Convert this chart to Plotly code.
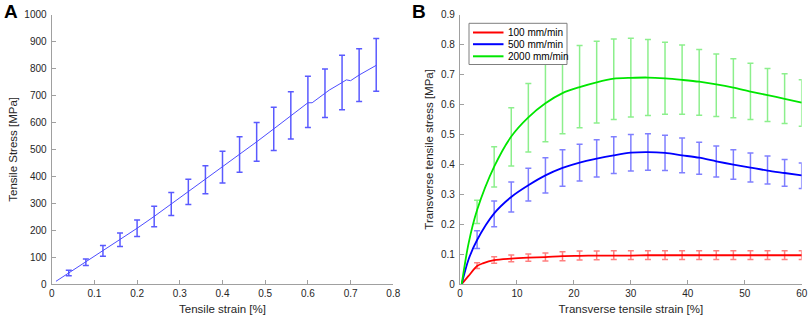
import plotly.graph_objects as go

# ---------------- Panel A data ----------------
a_line_x = [0.01, 0.04, 0.08, 0.12, 0.16, 0.20, 0.24, 0.28, 0.32, 0.36, 0.40, 0.44,
            0.48, 0.52, 0.56, 0.60, 0.61, 0.64, 0.65, 0.68, 0.69, 0.70, 0.72, 0.76]
a_line_y = [10, 41, 81, 123, 164, 207, 251, 297, 342, 387, 434, 481,
            528, 576, 626, 673, 673, 708, 720, 748, 758, 755, 776, 812]
a_bar_x = [0.04, 0.08, 0.12, 0.16, 0.20, 0.24, 0.28, 0.32, 0.36, 0.40,
           0.44, 0.48, 0.52, 0.56, 0.60, 0.64, 0.68, 0.72, 0.76]
a_bar_mean = [41, 81, 123, 164, 207, 251, 297, 342, 387, 434,
              481, 528, 576, 626, 676, 708, 748, 776, 814]
a_bar_err = [10, 12, 20, 25, 31, 38, 43, 47, 52, 59,
             66, 72, 80, 88, 95, 90, 101, 98, 98]

# ---------------- Panel B data ----------------
b_bar_x = [3, 6, 9, 12, 15, 18, 21, 24, 27, 30, 33, 36, 39, 42, 45, 48, 51, 54, 57, 60]

red_line_x = [0.3, 1.5, 3, 4, 6, 9, 12, 15, 18, 21, 24, 27, 30, 33, 36, 39, 42, 45, 48, 51, 54, 57, 60]
red_line_y = [0, 0.027, 0.060, 0.069, 0.080, 0.085, 0.088, 0.090, 0.093, 0.094, 0.095, 0.095,
              0.095, 0.096, 0.096, 0.096, 0.096, 0.096, 0.096, 0.096, 0.096, 0.096, 0.096]
red_mid = [0.060, 0.080, 0.085, 0.088, 0.090, 0.093, 0.094, 0.095, 0.095, 0.095,
           0.096, 0.096, 0.096, 0.096, 0.096, 0.096, 0.096, 0.096, 0.096, 0.096]
red_lo = [0.052, 0.069, 0.074, 0.076, 0.077, 0.078, 0.080, 0.081, 0.082, 0.082,
          0.082, 0.082, 0.082, 0.082, 0.082, 0.082, 0.082, 0.082, 0.082, 0.082]
red_hi = [0.071, 0.091, 0.097, 0.100, 0.104, 0.108, 0.110, 0.110, 0.111, 0.111,
          0.111, 0.111, 0.111, 0.111, 0.111, 0.111, 0.111, 0.111, 0.111, 0.111]

blue_line_x = [0.3, 1.5, 3, 6, 9, 12, 15, 18, 21, 24, 27, 30, 33, 36, 39, 42, 45, 48, 51, 54, 57, 60]
blue_line_y = [0, 0.082, 0.147, 0.236, 0.291, 0.330, 0.363, 0.388, 0.406, 0.419, 0.430, 0.439,
               0.441, 0.438, 0.430, 0.422, 0.410, 0.399, 0.389, 0.379, 0.371, 0.363]
blue_mid = [0.147, 0.236, 0.291, 0.330, 0.363, 0.388, 0.406, 0.419, 0.430, 0.439,
            0.441, 0.438, 0.430, 0.422, 0.410, 0.399, 0.389, 0.379, 0.371, 0.363]
blue_lo = [0.119, 0.191, 0.241, 0.277, 0.304, 0.327, 0.344, 0.358, 0.369, 0.378,
           0.380, 0.379, 0.372, 0.367, 0.358, 0.350, 0.341, 0.334, 0.327, 0.319]
blue_hi = [0.178, 0.277, 0.341, 0.387, 0.422, 0.449, 0.467, 0.482, 0.492, 0.500,
           0.502, 0.497, 0.488, 0.474, 0.461, 0.449, 0.438, 0.428, 0.416, 0.404]

green_line_x = [0.3, 1.5, 3, 6, 9, 12, 15, 18, 21, 24, 27, 30, 33, 36, 39, 42, 45, 48, 51, 54, 57, 60]
green_line_y = [0, 0.135, 0.247, 0.392, 0.493, 0.557, 0.604, 0.638, 0.658, 0.674, 0.686, 0.689,
                0.690, 0.687, 0.682, 0.676, 0.667, 0.656, 0.643, 0.631, 0.619, 0.606]
green_mid = [0.247, 0.392, 0.493, 0.557, 0.604, 0.638, 0.658, 0.674, 0.686, 0.689,
             0.690, 0.687, 0.682, 0.676, 0.667, 0.656, 0.643, 0.631, 0.619, 0.606]
green_lo = [0.202, 0.324, 0.394, 0.441, 0.475, 0.502, 0.522, 0.538, 0.550, 0.558,
            0.563, 0.567, 0.567, 0.564, 0.560, 0.556, 0.550, 0.543, 0.536, 0.527]
green_hi = [0.280, 0.459, 0.589, 0.670, 0.745, 0.775, 0.797, 0.811, 0.819, 0.821,
            0.817, 0.808, 0.799, 0.784, 0.769, 0.753, 0.738, 0.720, 0.703, 0.683]

series_names = ["100 mm/min", "500 mm/min", "2000 mm/min"]
line_colors = ["#ff0000", "#0000ff", "#00e600"]
bar_colors = ["rgba(255,0,0,0.5)", "rgba(0,0,255,0.5)", "rgba(0,220,0,0.45)"]

W, H = 809, 318
FONT = "Liberation Sans, Arial, Helvetica, sans-serif"
AX = "#a0a0a0"
TXT = "#262626"

fig = go.Figure()

# Panel A
fig.add_trace(go.Scatter(
    x=a_bar_x, y=a_bar_mean, mode="markers", xaxis="x", yaxis="y",
    marker=dict(size=1, color="rgba(0,0,0,0)"),
    error_y=dict(type="data", array=a_bar_err, color="#5a5aff", thickness=1.5, width=3),
    showlegend=False, hoverinfo="skip"))
fig.add_trace(go.Scatter(
    x=a_line_x, y=a_line_y, mode="lines", xaxis="x", yaxis="y",
    line=dict(color="#4d4dff", width=1), showlegend=False))

# Panel B error bars
for mid, lo, hi, bc in [(red_mid, red_lo, red_hi, bar_colors[0]),
                        (blue_mid, blue_lo, blue_hi, bar_colors[1]),
                        (green_mid, green_lo, green_hi, bar_colors[2])]:
    fig.add_trace(go.Scatter(
        x=b_bar_x, y=mid, mode="markers", xaxis="x2", yaxis="y2",
        marker=dict(size=1, color="rgba(0,0,0,0)"),
        error_y=dict(type="data", symmetric=False,
                     array=[h - m for h, m in zip(hi, mid)],
                     arrayminus=[m - l for m, l in zip(mid, lo)],
                     color=bc, thickness=1.5, width=3),
        showlegend=False, hoverinfo="skip"))

# Panel B lines
for lx, ly, name, lc in [(red_line_x, red_line_y, series_names[0], line_colors[0]),
                         (blue_line_x, blue_line_y, series_names[1], line_colors[1]),
                         (green_line_x, green_line_y, series_names[2], line_colors[2])]:
    fig.add_trace(go.Scatter(
        x=lx, y=ly, mode="lines", xaxis="x2", yaxis="y2", name=name,
        line=dict(color=lc, width=1.8, shape="spline", smoothing=0.8), showlegend=False))

ydom = [34 / H, 303.3 / H]
common = dict(showline=True, linecolor=AX, linewidth=1.2, ticks="inside", ticklen=4,
              tickcolor=AX, tickwidth=1, showgrid=False, zeroline=False,
              ticklabeloverflow="allow",
              tickfont=dict(family=FONT, size=10, color=TXT), automargin=False)
yextra = dict(ticklabelstandoff=2)
TSZ = 11.5

fig.update_layout(
    width=W, height=H, margin=dict(l=0, r=0, t=0, b=0),
    paper_bgcolor="white", plot_bgcolor="white",
    font=dict(family=FONT, color=TXT),
    xaxis=dict(domain=[51.7 / W, 393.3 / W], range=[0, 0.8], dtick=0.1, anchor="y",
               title=dict(text="Tensile strain [%]", standoff=6,
                          font=dict(family=FONT, size=TSZ, color=TXT)), **common),
    yaxis=dict(domain=ydom, range=[0, 1000], dtick=100, anchor="x",
               title=dict(text="Tensile Stress [MPa]", standoff=4,
                          font=dict(family=FONT, size=TSZ, color=TXT)), **common, **yextra),
    xaxis2=dict(domain=[460 / W, 801.7 / W], range=[0, 60], dtick=10, anchor="y2",
                title=dict(text="Transverse tensile strain [%]", standoff=6,
                           font=dict(family=FONT, size=TSZ, color=TXT)), **common),
    yaxis2=dict(domain=ydom, range=[0, 0.9], dtick=0.1, anchor="x2",
                title=dict(text="Transverse tensile stress [MPa]", standoff=4,
                           font=dict(family=FONT, size=TSZ, color=TXT)), **common, **yextra),
    showlegend=False,
)

# Panel labels
for txt, px in [("A", 11), ("B", 419)]:
    fig.add_annotation(text="<b>%s</b>" % txt, x=px / W, y=1 - 12 / H, xref="paper", yref="paper",
                       showarrow=False, font=dict(family=FONT, size=19, color="black"),
                       xanchor="center", yanchor="middle")

# Manual legend (compact MATLAB-style box)
lx0, lx1, ly0, ly1 = 469, 567, 23.3, 64.5
fig.add_shape(type="rect", xref="paper", yref="paper", layer="above",
              x0=lx0 / W, x1=lx1 / W, y0=1 - ly1 / H, y1=1 - ly0 / H,
              fillcolor="white", line=dict(color="#7f7f7f", width=1))
rows = [32.5, 44.2, 56.3]
for ry, name, lc in zip(rows, series_names, line_colors):
    fig.add_shape(type="line", xref="paper", yref="paper", layer="above",
                  x0=473 / W, x1=503.5 / W, y0=1 - ry / H, y1=1 - ry / H,
                  line=dict(color=lc, width=2))
    fig.add_annotation(text=name, x=505.5 / W, y=1 - ry / H, xref="paper", yref="paper",
                       showarrow=False, xanchor="left", yanchor="middle",
                       font=dict(family=FONT, size=10, color="black"))

fig.write_html("out.html", config={"displayModeBar": False},
               post_script="document.body.style.margin='0';document.body.style.overflow='hidden';")
